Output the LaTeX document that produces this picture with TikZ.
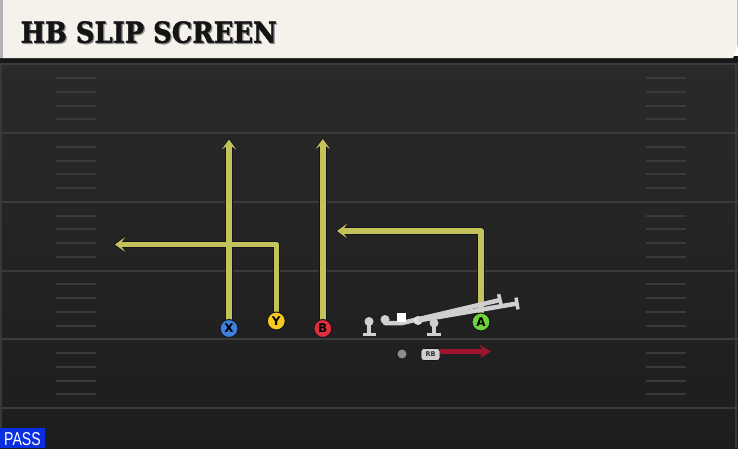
\documentclass[tikz,border=0pt]{standalone}
\usepackage{fontspec}
\setmainfont{Liberation Sans}
\newfontfamily\titlefont[FakeBold=1.5]{DejaVu Serif}
\newfontfamily\lblfont{DejaVu Sans}
\usetikzlibrary{arrows.meta,calc}
\definecolor{fieldtop}{HTML}{2A2A2A}
\definecolor{fieldbot}{HTML}{1D1D1D}
\definecolor{yardcol}{HTML}{3B3B3B}
\definecolor{hashcol}{HTML}{3A3A3A}
\definecolor{headcol}{HTML}{F5F2EB}
\definecolor{routecol}{HTML}{C4C35B}
\definecolor{edgecol}{HTML}{14141C}
\definecolor{olcol}{HTML}{D0D0D0}
\definecolor{xcol}{HTML}{3D7FDD}
\definecolor{ycol}{HTML}{F6C91E}
\definecolor{bcol}{HTML}{DE2E3B}
\definecolor{acol}{HTML}{6DD23B}
\definecolor{rbred}{HTML}{A0132F}
\definecolor{passblue}{HTML}{0B2EE0}
\begin{document}
\begin{tikzpicture}[x=1pt,y=-1pt,
  yard/.style={draw=yardcol,line width=2pt},
  hashm/.style={draw=hashcol,line width=2pt},
  routeedge/.style={draw=edgecol,line width=7.5pt,line join=round,shorten >=-1.5pt,
    -{Stealth[length=12.5pt,width=17.5pt,inset=6pt]}},
  routeline/.style={draw=routecol,line width=5.5pt,line join=round,
    -{Stealth[length=10pt,width=14.5pt,inset=5pt]}},
  player/.style={circle,draw=edgecol,line width=1pt,minimum size=18pt,inner sep=0pt,
    font=\lblfont\bfseries\fontsize{12}{12}\selectfont,text=black},
  lineman/.style={circle,fill=olcol,minimum size=9pt,inner sep=0pt},
  blockln/.style={draw=olcol,line width=4.5pt},
  capln/.style={draw=olcol,line width=3.5pt},
  rbtag/.style={fill=olcol,draw=edgecol,line width=0.6pt,rounded corners=3pt,minimum width=19pt,minimum height=12pt,inner sep=0pt,
    font=\lblfont\bfseries\fontsize{6.5}{6.5}\selectfont,text=black!80},
]
\useasboundingbox (0,0) rectangle (738,448);
% field
\shade[top color=fieldtop,bottom color=fieldbot] (0,57) rectangle (738,448);
\draw[draw=black!78,line width=2pt] (1,57) -- (1,448);
\draw[draw=black!78,line width=2pt] (736,57) -- (736,448);
% yard lines
\foreach \k in {-1,...,4}
  \draw[yard] (0,{133+68.75*\k}) -- (738,{133+68.75*\k});
% hash marks
\foreach \k in {-1,...,3}
  \foreach \j in {1,...,4} {
    \draw[hashm] (56,{133+68.75*\k+13.75*\j}) -- (96,{133+68.75*\k+13.75*\j});
    \draw[hashm] (646,{133+68.75*\k+13.75*\j}) -- (686,{133+68.75*\k+13.75*\j});
  }
% header
\fill[fill=black!90] (0,56) rectangle (738,63);
\fill[fill=headcol] (0,0) -- (738,0) -- (738,46) -- (733,58) -- (0,58) -- cycle;
\fill[fill=black!30] (0,0) rectangle (3,58);
\draw[draw=black!25,line width=1pt] (737.5,0) -- (737.5,46);
\node[anchor=south west,inner sep=0pt,text=black!45] (titleshadow) at (21.7,44.5)
  {\resizebox{256pt}{21.5pt}{\titlefont\bfseries HB SLIP SCREEN}};
\node[anchor=south west,inner sep=0pt,text=black!92] (title) at (20.5,43.3)
  {\resizebox{256pt}{21.5pt}{\titlefont\bfseries HB SLIP SCREEN}};
% player positions
\coordinate (xpos) at (229,328.5);
\coordinate (ypos) at (276.3,321);
\coordinate (bpos) at (322.8,328.5);
\coordinate (apos) at (481,322);
% route end points
\coordinate (xt) at (229,139.5);
\coordinate (yt) at (115,244.5);
\coordinate (bt) at (322.8,139);
\coordinate (at) at (337,231);
% routes: dark outline then colour
\draw[routeedge] (xpos) -- (xt);
\draw[routeedge] (ypos) |- (yt);
\draw[routeedge] (bpos) -- (bt);
\draw[routeedge] (apos) |- (at);
\draw[routeline] (xpos) -- (xt);
\draw[routeline] (ypos) |- (yt);
\draw[routeline] (bpos) -- (bt);
\draw[routeline] (apos) |- (at);
% offensive line
\node[lineman] (lt) at (369,321.5) {};
\coordinate (ltb) at (369,334.5);
\draw[blockln] (lt.center) -- (ltb);
\draw[capln] ($(ltb)+(-6.5,0)$) -- ($(ltb)+(6.5,0)$);
\node[lineman] (lg) at (385,319.5) {};
\coordinate (lgm) at (402,323);
\coordinate (lge) at (500,300);
\draw[blockln,line join=round] (lg.center) |- (lgm) -- (lge);
\draw[capln] ($(lge)!6pt!90:(lgm)$) -- ($(lge)!6pt!-90:(lgm)$);
\node[lineman,fill=black!12] (rg) at (418,320.5) {};
\coordinate (rge) at (517,303.5);
\draw[blockln] (rg.center) -- (rge);
\draw[capln] ($(rge)!6pt!90:(rg.center)$) -- ($(rge)!6pt!-90:(rg.center)$);
\node[lineman] (rt) at (434,323) {};
\coordinate (rtb) at (434,334.5);
\draw[blockln] (rt.center) -- (rtb);
\draw[capln] ($(rtb)+(-7,0)$) -- ($(rtb)+(7,0)$);
\node[fill=white,minimum size=9pt,inner sep=0pt] (c) at (401.5,317.5) {};
% receivers
\node[player,fill=xcol] (X) at (xpos) {X};
\node[player,fill=ycol] (Y) at (ypos) {Y};
\node[player,fill=bcol] (B) at (bpos) {B};
\node[player,fill=acol] (A) at (apos) {A};
% backfield
\node[circle,fill=black!45,draw=edgecol,line width=0.6pt,minimum size=10pt,inner sep=0pt] (qb) at (402,354) {};
\coordinate (rbt) at (491,351.5);
\draw[draw=rbred,line width=4.5pt,-{Stealth[length=11pt,width=13pt,inset=3pt]}] ([yshift=3pt]430.5,354.5) -- (rbt);
\node[rbtag] (rb) at (430.5,354.5) {RB};
% pass tag
\fill[fill=passblue] (0,428) rectangle (45,448);
\node[anchor=south west,inner sep=0pt,text=white] (pass) at (4,445.8)
  {\resizebox{36.5pt}{13pt}{PASS}};
\end{tikzpicture}
\end{document}
